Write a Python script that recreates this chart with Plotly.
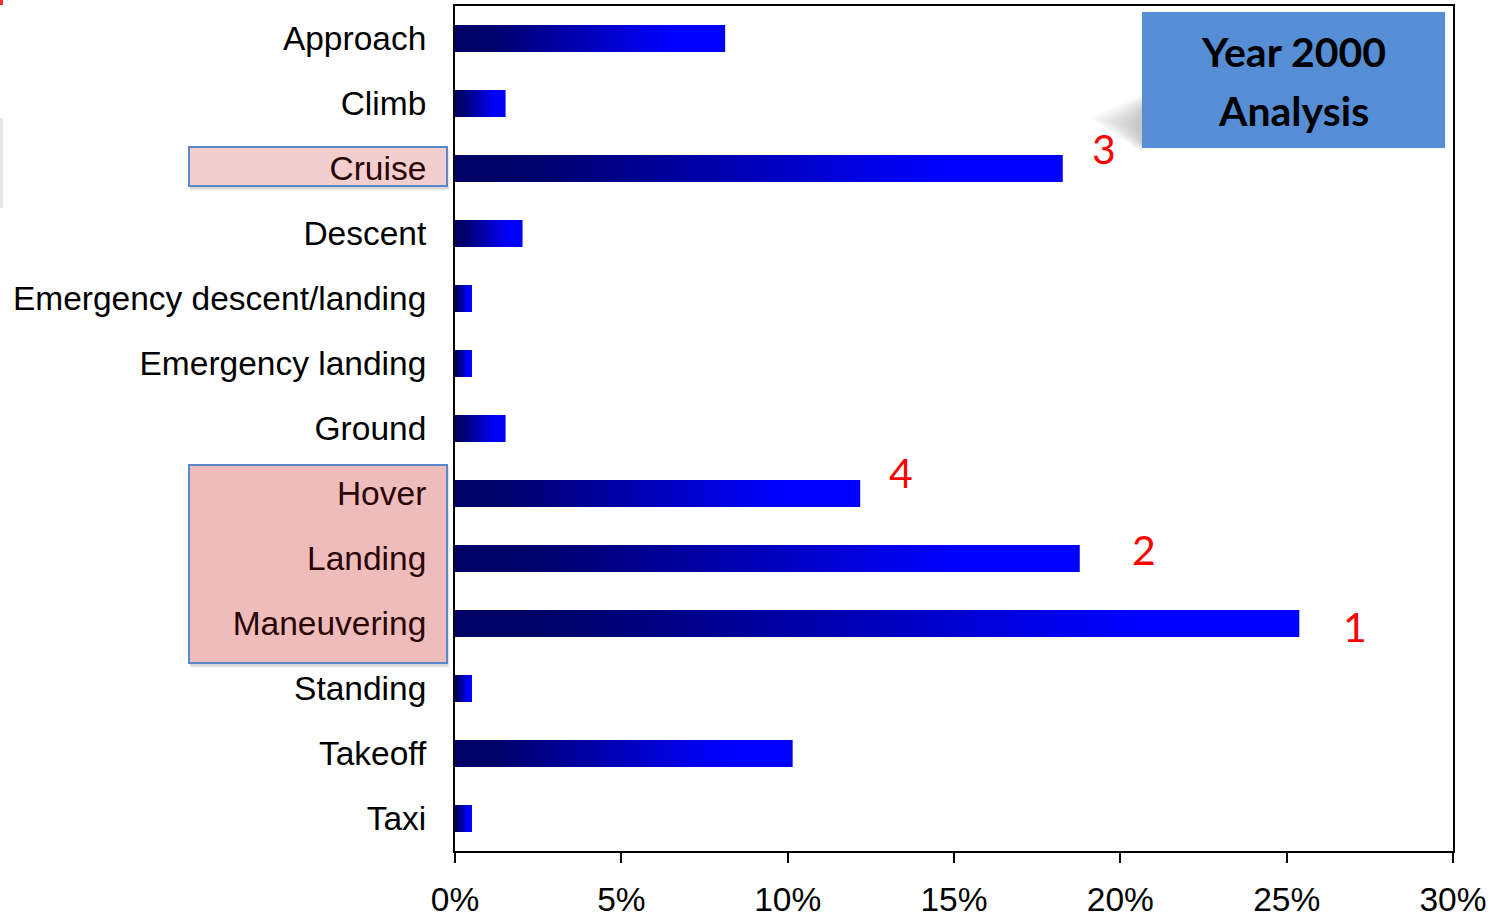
import plotly.graph_objects as go

categories = ["Approach", "Climb", "Cruise", "Descent", "Emergency descent/landing",
              "Emergency landing", "Ground", "Hover", "Landing", "Maneuvering",
              "Standing", "Takeoff", "Taxi"]
values = [8.12, 1.52, 18.27, 2.03, 0.51, 0.51, 1.52, 12.18, 18.78, 25.38, 0.51, 10.15, 0.51]
highlighted = ["Cruise", "Hover", "Landing", "Maneuvering"]
rank_labels = {"Maneuvering": "1", "Landing": "2", "Cruise": "3", "Hover": "4"}
x_ticks = [0, 5, 10, 15, 20, 25, 30]

W, H = 1499, 919
ML, MR, MT, MB = 455, 46, 6, 68
PW, PH = W - ML - MR, H - MT - MB

def px_x(p):
    return (p - ML) / PW

def px_y(p):
    return (H - MB - p) / PH

half = 0.208
grad = [[0.0, "#000066"], [0.12, "#000068"], [0.8, "#0000ff"], [1.0, "#0000ff"]]

fig = go.Figure()
for i, (c, v) in enumerate(zip(categories, values)):
    fig.add_trace(go.Scatter(
        x=[0, v, v, 0, 0], y=[i - half, i - half, i + half, i + half, i - half],
        mode="lines", line=dict(width=0, color="rgba(0,0,0,0)"),
        fill="toself",
        fillgradient=dict(type="horizontal", colorscale=grad),
        showlegend=False, hoverinfo="text", text=f"{c}: {v:.1f}%",
    ))

# rank numbers
rank_pos = {"Cruise": (19.5, 1.69), "Hover": (13.4, 6.68), "Landing": (20.7, 7.86), "Maneuvering": (27.05, 9.05)}
for c, lab in rank_labels.items():
    x, y = rank_pos[c]
    fig.add_annotation(x=x, y=y, xref="x", yref="y", text=lab, showarrow=False,
                       xanchor="center", yanchor="middle",
                       font=dict(family="Lato", size=41, color="#ff0000"))

ticktext = []
for c in categories:
    if c in highlighted:
        ticktext.append(f'<span style="color:#2a0505">{c}</span>')
    else:
        ticktext.append(c)

shapes = []
# pink highlight boxes (shadow + box)
for (x0, y0, x1, y1, fillc) in [(189, 147, 447, 186, "#f3cece"), (189, 465, 447, 663, "#efbcbc")]:
    for k, a in [(5, 0.06), (4, 0.08), (3, 0.1)]:
        shapes.append(dict(type="rect", xref="paper", yref="paper", layer="below",
                           x0=px_x(x0 + 1), x1=px_x(x1 + k - 2), y0=px_y(y0 + 2), y1=px_y(y1 + k),
                           line=dict(width=0), fillcolor=f"rgba(80,80,80,{a})"))
    shapes.append(dict(type="rect", xref="paper", yref="paper", layer="below",
                       x0=px_x(x0), x1=px_x(x1), y0=px_y(y0), y1=px_y(y1),
                       line=dict(color="#5a88c6", width=2), fillcolor=fillc))

# soft shadow of title box
for k in range(0, 50, 5):
    shapes.append(dict(type="path", xref="paper", yref="paper", layer="above",
                       path=f"M {px_x(1142)},{px_y(95 + k/3)} L {px_x(1090 + k)},{px_y(118 + k/6)} "
                            f"L {px_x(1142)},{px_y(152 - k/5)} Z",
                       line=dict(width=0), fillcolor="rgba(90,90,90,0.035)"))
# title box
shapes.append(dict(type="rect", xref="paper", yref="paper", layer="above",
                   x0=px_x(1142), x1=px_x(1445), y0=px_y(12), y1=px_y(148),
                   line=dict(width=0), fillcolor="#558ed5"))
# small artifacts at left edge
shapes.append(dict(type="rect", xref="paper", yref="paper", layer="above",
                   x0=px_x(0), x1=px_x(3), y0=px_y(0), y1=px_y(5),
                   line=dict(width=0), fillcolor="#ff2a2a"))
shapes.append(dict(type="rect", xref="paper", yref="paper", layer="above",
                   x0=px_x(0), x1=px_x(3), y0=px_y(118), y1=px_y(208),
                   line=dict(width=0), fillcolor="#e6e6e6"))

for txt, yc in [("<b>Year 2000</b>", 51), ("<b>Analysis</b>", 110)]:
    fig.add_annotation(x=px_x(1293), y=px_y(yc), xref="paper", yref="paper", text=txt,
                       xanchor="center", yanchor="middle", showarrow=False,
                       font=dict(family="Lato", size=41, color="#000000"))

fig.update_layout(
    width=W, height=H,
    margin=dict(l=ML, r=MR, t=MT, b=MB, pad=0, autoexpand=False),
    paper_bgcolor="white", plot_bgcolor="white",
    font=dict(family="Liberation Sans, Arial", size=33.5, color="#000000"),
    shapes=shapes,
    xaxis=dict(range=[0, 30], tickvals=x_ticks, ticktext=[f"{t}%" for t in x_ticks],
               showgrid=False, zeroline=False, showline=True, linecolor="#000000", linewidth=2,
               mirror=True, ticks="outside", ticklen=10, tickwidth=2, tickcolor="#000000",
               ticklabelstandoff=8, automargin=False, fixedrange=True),
    yaxis=dict(range=[12.5, -0.5], tickvals=list(range(len(categories))), ticktext=ticktext,
               showgrid=False, zeroline=False, showline=True, linecolor="#000000", linewidth=2,
               mirror=True, ticks="", ticklabelstandoff=20, automargin=False, fixedrange=True),
)

fig.write_html("out.html")
